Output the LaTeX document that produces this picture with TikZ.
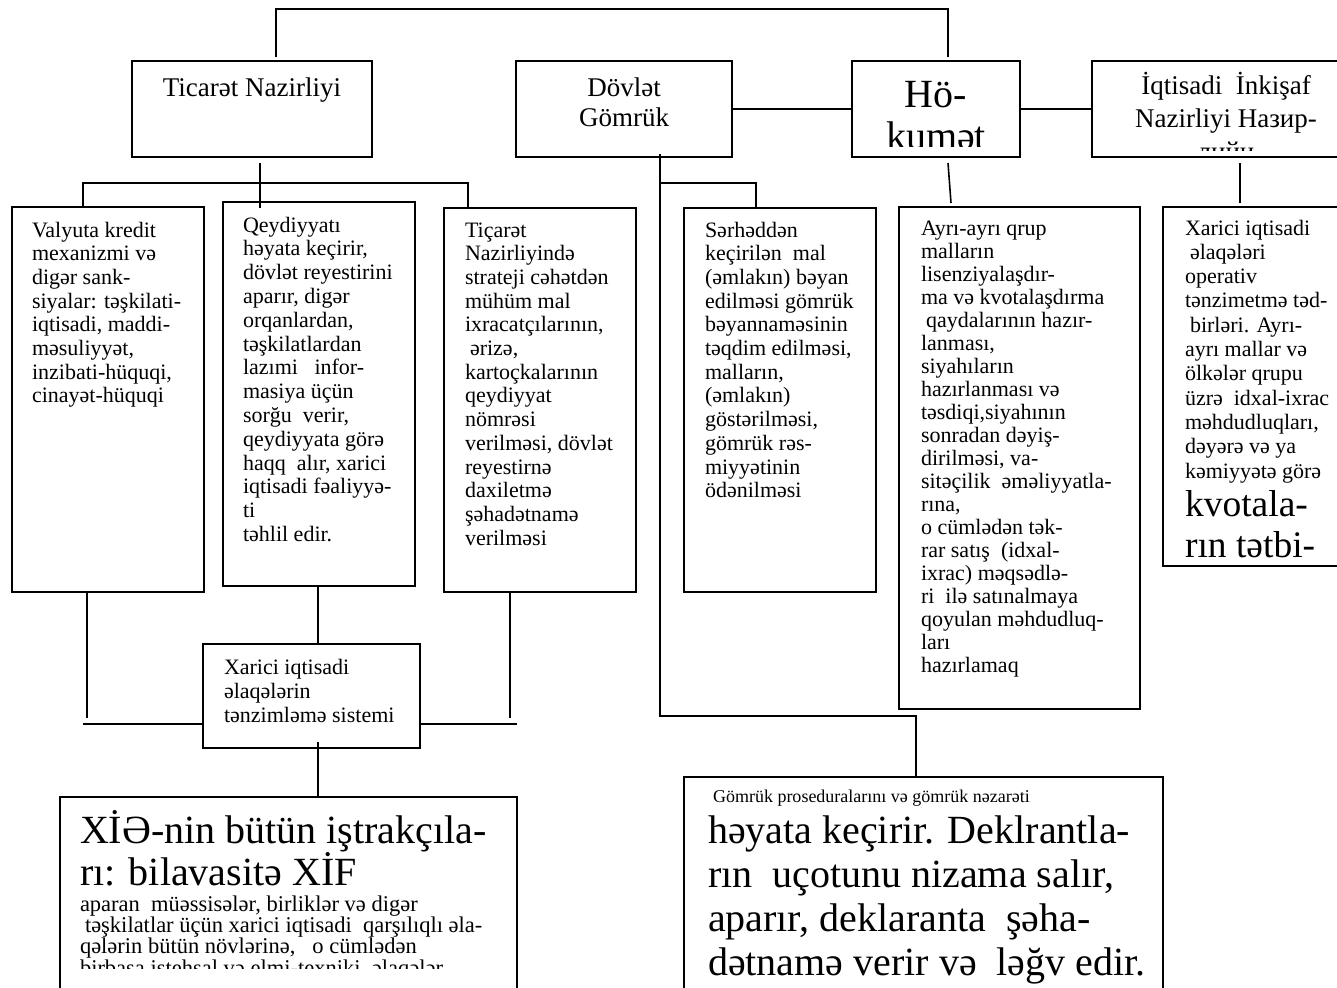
\documentclass[tikz,border=0pt]{standalone}
\usepackage{fontspec}
\setmainfont{Liberation Serif}
\usetikzlibrary{calc}
\tikzset{
  box/.style={draw, line width=2pt, inner sep=0pt, outer sep=0pt, anchor=north west},
  conn/.style={line width=1.6pt},
  txt/.style={inner sep=0pt, outer sep=0pt, anchor=base west},
  ctxt/.style={inner sep=0pt, outer sep=0pt, anchor=base},
}
\begin{document}
\begin{tikzpicture}[x=1pt,y=-1pt]
\useasboundingbox (0,0) rectangle (1337,987);
\clip (0,0) rectangle (1337,987);

% boxes
\node[box, minimum width=240pt, minimum height=96pt] (tic) at (132,61) {};
\node[box, minimum width=216pt, minimum height=96pt] (dov) at (516,61) {};
\node[box, minimum width=168pt, minimum height=96pt] (hok) at (852,61) {};
\node[box, minimum width=268pt, minimum height=96pt] (iqt) at (1092,61) {};
\node[box, minimum width=192pt, minimum height=385pt] (val) at (12,207) {};
\node[box, minimum width=192pt, minimum height=384pt] (qey) at (223,202) {};
\node[box, minimum width=192pt, minimum height=384pt] (tna) at (444,208) {};
\node[box, minimum width=192pt, minimum height=384pt] (ser) at (684,208) {};
\node[box, minimum width=241pt, minimum height=502pt] (ayr) at (899,207) {};
\node[box, minimum width=207pt, minimum height=359pt] (xar) at (1163,207) {};
\node[box, minimum width=217pt, minimum height=104pt] (sys) at (203,644) {};
\node[box, minimum width=457pt, minimum height=213pt] (xie) at (60,797) {};
\node[box, minimum width=479pt, minimum height=233pt] (gom) at (684,777) {};

% top texts
\node[ctxt] (ttic) at (252,97) {\parbox[t]{300pt}{\centering\fontsize{27}{30}\selectfont Ticarət Nazirliyi}};
\node[ctxt] (tdov) at (624,97) {\parbox[t]{300pt}{\centering\fontsize{27}{30}\selectfont Dövlət\\Gömrük}};
\begin{scope}
\clip (hok.north west) rectangle ([yshift=10pt]hok.south east);
\node[ctxt] (thok) at (936,108) {\parbox[t]{300pt}{\centering\fontsize{40}{42}\selectfont Hö-\\kumət}};
\end{scope}
\begin{scope}
\clip (iqt.north west) rectangle ([yshift=6pt]iqt.south east);
\node[ctxt] (tiqt) at (1226,95) {\parbox[t]{300pt}{\centering\fontsize{27}{33}\selectfont İqtisadi\ \ İnkişaf\\Nazirliyi Назир-\\лийи}};
\end{scope}

% middle texts
\node[txt] (tval) at (32,237) {\parbox[t]{300pt}{\fontsize{22}{23.7}\selectfont
Valyuta kredit\\
mexanizmi və\\
digər sank-\\
siyalar: təşkilati-\\
iqtisadi, maddi-\\
məsuliyyət,\\
inzibati-hüquqi,\\
cinayət-hüquqi}};

\node[txt] (tqey) at (243,232) {\parbox[t]{300pt}{\fontsize{22}{23.8}\selectfont
Qeydiyyatı\\
həyata keçirir,\\
dövlət reyestirini\\
aparır, digər\\
orqanlardan,\\
təşkilatlardan\\
lazımi\ \ \ infor-\\
masiya üçün\\
sorğu\ \ verir,\\
qeydiyyata görə\\
haqq\ \ alır, xarici\\
iqtisadi fəaliyyə-\\
ti\\
təhlil edir.}};

\node[txt] (ttna) at (465,237) {\parbox[t]{300pt}{\fontsize{22}{23.7}\selectfont
Tiçarət\\
Nazirliyində\\
strateji cəhətdən\\
mühüm mal\\
ixracatçılarının,\\
\hspace*{5pt}ərizə,\\
kartoçkalarının\\
qeydiyyat\\
nömrəsi\\
verilməsi, dövlət\\
reyestirnə\\
daxiletmə\\
şəhadətnamə\\
verilməsi}};

\node[txt] (tser) at (705,237) {\parbox[t]{300pt}{\fontsize{22}{23.7}\selectfont
Sərhəddən\\
keçirilən\ \ mal\\
(əmlakın) bəyan\\
edilməsi gömrük\\
bəyannaməsinin\\
təqdim edilməsi,\\
malların,\\
(əmlakın)\\
göstərilməsi,\\
gömrük rəs-\\
miyyətinin\\
ödənilməsi}};

\node[txt] (tayr) at (921,235) {\parbox[t]{300pt}{\fontsize{22}{23}\selectfont
Ayrı-ayrı qrup\\
malların\\
lisenziyalaşdır-\\
ma və kvotalaşdırma\\
\hspace*{5pt}qaydalarının hazır-\\
lanması,\\
siyahıların\\
hazırlanması və\\
təsdiqi,siyahının\\
sonradan dəyiş-\\
dirilməsi, va-\\
sitəçilik\ \ əməliyyatla-\\
rına,\\
o cümlədən tək-\\
rar satış\ \ (idxal-\\
ixrac) məqsədlə-\\
ri\ \ ilə satınalmaya\\
qoyulan məhdudluq-\\
ları\\
hazırlamaq}};

\node[txt] (txar) at (1185,235) {\parbox[t]{300pt}{\fontsize{22}{24.3}\selectfont
Xarici iqtisadi\\
\hspace*{5pt}əlaqələri\\
operativ\\
tənzimetmə təd-\\
\hspace*{5pt}birləri. Ayrı-\\
ayrı mallar və\\
ölkələr qrupu\\
üzrə\ \ idxal-ixrac\\
məhdudluqları,\\
dəyərə və ya\\
kəmiyyətə görə\par
\fontsize{37.5}{41.5}\selectfont\vspace*{-3.5pt}
kvotala-\\
rın tətbi-}};

\node[txt] (tsys) at (224,674) {\parbox[t]{300pt}{\fontsize{22}{24}\selectfont
Xarici iqtisadi\\
əlaqələrin\\
tənzimləmə sistemi}};

% bottom texts
\begin{scope}
\clip (xie.north west) rectangle ([yshift=42pt]xie.south east);
\node[txt] (txie) at (80,843) {\parbox[t]{600pt}{\fontsize{40}{39}\selectfont
XİƏ-nin bütün iştrakçıla-\\
rı: bilavasitə XİF}};
\node[txt] (txie2) at (80,911) {\parbox[t]{600pt}{\fontsize{22.5}{20.4}\selectfont
aparan\ \ müəssisələr, birliklər və digər\\
\hspace*{5pt}təşkilatlar üçün xarici iqtisadi\ \ qarşılıqlı əla-\\
qələrin bütün növlərinə,\ \ \ o cümlədən\\
birbaşa istehsal və elmi-texniki\ \ əlaqələr}};
\end{scope}
\node[txt] (tgom) at (713,802) {\parbox[t]{600pt}{\fontsize{18}{20}\selectfont
Gömrük proseduralarını və gömrük nəzarəti}};
\node[txt] (tgom2) at (708,843) {\parbox[t]{600pt}{\fontsize{40}{44}\selectfont
həyata keçirir. Deklrantla-\\
rın\ \ uçotunu nizama salır,\\
aparır, deklaranta\ \ şəha-\\
dətnamə verir və\ \ ləğv edir.}};

% connectors
\coordinate (tr) at (948,9);
\draw[conn] ([shift={(24,-4)}]tic.north) |- (tr) -- ([shift={(12,-4)}]hok.north);
\draw[conn] (dov.east) -- (hok.west);
\draw[conn] (hok.east) -- (iqt.west);
\draw[conn] ([shift={(8,6)}]tic.south) -- ([shift={(8,6)}]tic.south |- qey.north);
\draw[conn] ([shift={(-25,0)}]val.north) |- ([shift={(8,26)}]tic.south) -| ([shift={(-72,0)}]tna.north);
\draw[conn] ([shift={(36,-3)}]dov.south) |- ([shift={(-7.5,-61)}]gom.north) -- ([xshift=-7.5pt]gom.north);
\draw[conn] ([shift={(36,26)}]dov.south) -| ([shift={(-24,0)}]ser.north);
\draw[conn] ([shift={(12,6)}]hok.south) -- ([shift={(-68.5,-4)}]ayr.north);
\draw[conn] ([shift={(14,6)}]iqt.south) -- ([shift={(-26.5,-4)}]xar.north);
\draw[conn] ([xshift=-1pt]qey.south) -- ([xshift=-1pt]qey.south |- sys.north);
\draw[conn] ([xshift=-21pt]val.south) -- ([shift={(-21,126)}]val.south);
\draw[conn] ([shift={(-120,28)}]sys.west) -- ([shift={(0,28)}]sys.west);
\draw[conn] ([shift={(0,28)}]sys.east) -- ([shift={(97,28)}]sys.east);
\draw[conn] ([xshift=-30pt]tna.south) -- ([shift={(-30,126)}]tna.south);
\draw[conn] ([shift={(6.5,-6)}]sys.south) -- ([xshift=6.5pt]sys.south |- xie.north);
\end{tikzpicture}
\end{document}
